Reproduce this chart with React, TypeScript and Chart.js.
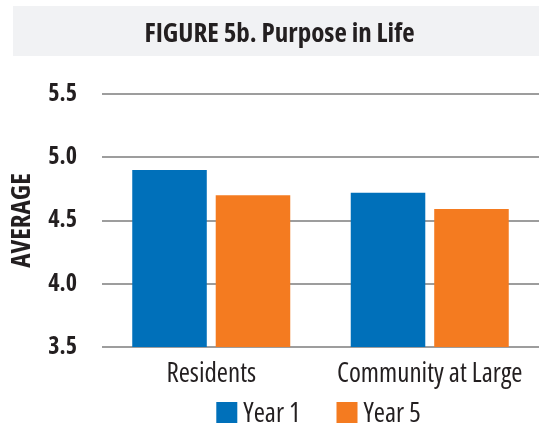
import React, { useEffect, useRef } from 'react';
import { Chart, registerables } from 'chart.js';

Chart.register(...registerables);

const TITLE = 'FIGURE 5b. Purpose in Life';
const CATEGORIES = ['Residents', 'Community at Large'];
const SERIES_NAMES = ['Year 1', 'Year 5'];
const YEAR1 = [4.9, 4.72];
const YEAR5 = [4.7, 4.59];
const Y_TICKS = [3.5, 4.0, 4.5, 5.0, 5.5];
const Y_LABEL = 'AVERAGE';
const COLORS = ['#0070ba', '#f47b20'];

const FONT = "'Open Sans', 'Roboto Condensed', sans-serif";
const TEXT = '#231f20';

const titleBox = {
  id: 'titleBox',
  beforeDraw(chart: any) {
    const ctx = chart.ctx;
    ctx.save();
    ctx.fillStyle = '#f1f2f4';
    ctx.fillRect(13, 6, chart.width - 13, 50);
    ctx.fillStyle = TEXT;
    ctx.font = `condensed bold 27px ${FONT}`;
    ctx.textAlign = 'center';
    ctx.textBaseline = 'alphabetic';
    ctx.fillText(TITLE, 279.5, 42);
    ctx.restore();
  },
};

const legendRow = {
  id: 'legendRow',
  afterDraw(chart: any) {
    const ctx = chart.ctx;
    ctx.save();
    ctx.font = `condensed 27px ${FONT}`;
    const box = 21;
    const gap = 6;
    const sep = 36;
    const items = chart.data.datasets.map((d: any) => ({
      text: d.label,
      color: d.backgroundColor,
      w: ctx.measureText(d.label).width,
    }));
    const total =
      items.reduce((s: number, it: any) => s + box + gap + it.w, 0) + sep * (items.length - 1);
    let x = 318.5 - total / 2;
    ctx.textAlign = 'left';
    ctx.textBaseline = 'alphabetic';
    for (const it of items) {
      ctx.fillStyle = it.color;
      ctx.fillRect(x, 402, box, box);
      x += box + gap;
      ctx.fillStyle = TEXT;
      ctx.fillText(it.text, x, 422);
      x += it.w + sep;
    }
    ctx.restore();
  },
};

export default function App() {
  const ref = useRef<HTMLCanvasElement | null>(null);

  useEffect(() => {
    if (!ref.current) return;
    const chart = new Chart(ref.current, {
      type: 'bar',
      data: {
        labels: CATEGORIES,
        datasets: [
          {
            label: SERIES_NAMES[0],
            data: YEAR1,
            backgroundColor: COLORS[0],
            categoryPercentage: 0.764,
            barPercentage: 0.893,
          },
          {
            label: SERIES_NAMES[1],
            data: YEAR5,
            backgroundColor: COLORS[1],
            categoryPercentage: 0.764,
            barPercentage: 0.893,
          },
        ],
      },
      options: {
        responsive: false,
        animation: false,
        devicePixelRatio: 1,
        layout: { padding: { top: 94, bottom: 39, left: 0, right: -3 } },
        plugins: {
          legend: { display: false },
          title: { display: false },
          tooltip: { enabled: false },
        },
        scales: {
          x: {
            grid: { display: false, drawTicks: false },
            border: { display: false },
            ticks: {
              color: TEXT,
              padding: 11,
              maxRotation: 0,
              minRotation: 0,
              autoSkip: false,
              font: { family: FONT, size: 27, weight: 'condensed', lineHeight: 1.2 },
            },
            afterFit(scale: any) {
              scale.height = 42;
            },
          },
          y: {
            min: Y_TICKS[0],
            max: Y_TICKS[Y_TICKS.length - 1],
            afterBuildTicks(scale: any) {
              scale.ticks = Y_TICKS.map((v) => ({ value: v }));
            },
            grid: { color: '#9d9d9d', lineWidth: 2, drawTicks: false },
            border: { display: false },
            ticks: {
              color: TEXT,
              padding: 25,
              font: { family: FONT, size: 24, weight: 'condensed bold', lineHeight: 1.2 },
              callback: (v: any) => Number(v).toFixed(1),
            },
            title: {
              display: true,
              text: Y_LABEL,
              color: TEXT,
              padding: { top: 6, bottom: 0 },
              font: { family: FONT, size: 27, weight: 'condensed bold', lineHeight: 1.2 },
            },
            afterFit(scale: any) {
              scale.width = 102;
            },
          },
        },
      },
      plugins: [titleBox, legendRow],
    });
    return () => chart.destroy();
  }, []);

  return (
    <div style={{ position: 'fixed', left: 0, top: 0, width: 539, height: 428, background: '#fff' }}>
      <canvas ref={ref} width={539} height={428} style={{ width: 539, height: 428, display: 'block' }} />
    </div>
  );
}
